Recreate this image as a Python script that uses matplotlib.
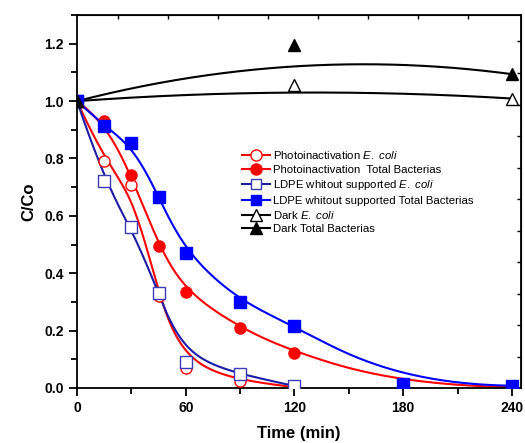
import numpy as np
import matplotlib
matplotlib.use('Agg')
import matplotlib.pyplot as plt
from matplotlib.lines import Line2D
from matplotlib.ticker import MultipleLocator, FixedLocator

plt.rcParams['font.family'] = ['Liberation Sans', 'DejaVu Sans']
plt.rcParams['mathtext.fontset'] = 'custom'
plt.rcParams['mathtext.rm'] = 'Liberation Sans'
plt.rcParams['mathtext.it'] = 'Liberation Sans:italic'

# values
t_photo_ecoli = [0, 15, 30, 45, 60, 90, 120]
c_photo_ecoli = [1.0, 0.79, 0.706, 0.32, 0.069, 0.025, 0.003]
t_photo_total = [0, 15, 30, 45, 60, 90, 120, 180, 240]
c_photo_total = [1.0, 0.931, 0.744, 0.495, 0.333, 0.21, 0.121, 0.01, 0.003]
t_ldpe_ecoli = [0, 15, 30, 45, 60, 90, 120]
c_ldpe_ecoli = [1.0, 0.721, 0.562, 0.33, 0.092, 0.048, 0.007]
t_ldpe_total = [0, 15, 30, 45, 60, 90, 120, 180, 240]
c_ldpe_total = [1.0, 0.913, 0.855, 0.667, 0.469, 0.30, 0.217, 0.013, 0.008]
t_dark = [0, 120, 240]
c_dark_ecoli = [1.0, 1.055, 1.009]
c_dark_total = [1.0, 1.195, 1.094]

labels = ['Photoinactivation $\\it{E.\\ coli}$',
          'Photoinactivation  Total Bacterias',
          'LDPE whitout supported $\\it{E.\\ coli}$',
          'LDPE whitout supported Total Bacterias',
          'Dark $\\it{E.\\ coli}$',
          'Dark Total Bacterias']


def bspline(x, y, num=400):
    # clamped B-spline using the data points as control points (Origin style)
    P = np.column_stack([x, y]).astype(float)
    n = len(P)
    k = min(3, n - 1)
    knots = np.concatenate([np.zeros(k), np.arange(n - k + 1), np.full(k, n - k)])
    u = np.linspace(0, n - k, num)
    u[-1] -= 1e-9
    N = np.array([((knots[i] <= u) & (u < knots[i + 1])).astype(float)
                  for i in range(len(knots) - 1)])
    for d in range(1, k + 1):
        Nn = np.zeros((len(knots) - 1 - d, num))
        for i in range(len(knots) - 1 - d):
            a = knots[i + d] - knots[i]
            b = knots[i + d + 1] - knots[i + 1]
            if a > 0:
                Nn[i] += (u - knots[i]) / a * N[i]
            if b > 0:
                Nn[i] += (knots[i + d + 1] - u) / b * N[i + 1]
        N = Nn
    C = N.T @ P
    return C[:, 0], C[:, 1]


fig = plt.figure(figsize=(5.25, 4.43), dpi=100)
ax = fig.add_axes([0.1467, 0.1242, 0.8457, 0.8418])

navy = '#1c1ca6'
series = [
    (t_photo_ecoli, c_photo_ecoli, 'red', 'o', 'white', 'red'),
    (t_photo_total, c_photo_total, 'red', 'o', 'red', 'red'),
    (t_ldpe_ecoli, c_ldpe_ecoli, navy, 's', 'white', '#3a3ab4'),
    (t_ldpe_total, c_ldpe_total, 'blue', 's', 'blue', 'blue'),
    (t_dark, c_dark_ecoli, 'black', '^', 'white', 'black'),
    (t_dark, c_dark_total, 'black', '^', 'black', 'black'),
]
for t, c, lc, mk, fc, ec in series:
    xs, ys = bspline(t, c)
    ax.plot(xs, ys, color=lc, lw=1.5, zorder=2)
    ax.plot(t, c, ls='none', marker=mk, ms=8.5 if mk == '^' else 8,
            mfc=fc, mec=ec, mew=1.0, zorder=3)

ax.set_xlim(0, 245)
ax.set_ylim(0, 1.3)
ax.xaxis.set_major_locator(FixedLocator([0, 60, 120, 180, 240]))
ax.xaxis.set_minor_locator(FixedLocator([30, 90, 150, 210]))
ax.yaxis.set_major_locator(FixedLocator([0, 0.2, 0.4, 0.6, 0.8, 1.0, 1.2]))
ax.yaxis.set_minor_locator(MultipleLocator(0.1))
ax.tick_params(which='major', direction='out', length=6, width=1.3,
               labelsize=10)
ax.tick_params(which='minor', direction='out', length=4, width=1.3)
for lab in ax.get_xticklabels() + ax.get_yticklabels():
    lab.set_fontweight('bold')
for sp in ax.spines.values():
    sp.set_linewidth(1.3)

# small inward ticks on the top and right frames
top = ax.secondary_xaxis('top')
top.xaxis.set_major_locator(FixedLocator(np.arange(22.8, 240, 27.6)))
top.tick_params(direction='in', length=3, width=1.0, labeltop=False)
right = ax.secondary_yaxis('right')
right.yaxis.set_major_locator(FixedLocator(np.arange(0.108, 1.3, 0.11)))
right.tick_params(direction='in', length=3, width=1.0, labelright=False)

ax.set_xlabel('Time (min)', fontsize=12, fontweight='bold', labelpad=8)
ax.set_ylabel('C/Co', fontsize=12, fontweight='bold', labelpad=6)

handles = [
    Line2D([], [], color='red', lw=1.5, marker='o', ms=8, mfc='white', mec='red'),
    Line2D([], [], color='red', lw=1.5, marker='o', ms=8, mfc='red', mec='red'),
    Line2D([], [], color=navy, lw=1.5, marker='s', ms=7.5, mfc='white', mec='#3a3ab4'),
    Line2D([], [], color='blue', lw=1.5, marker='s', ms=7.5, mfc='blue', mec='blue'),
    Line2D([], [], color='black', lw=1.5, marker='^', ms=8, mfc='white', mec='black'),
    Line2D([], [], color='black', lw=1.5, marker='^', ms=8, mfc='black', mec='black'),
]
ax.legend(handles, labels, loc='upper left', bbox_to_anchor=(0.372, 0.64),
          frameon=False, fontsize=8.2, handlelength=2.4, handletextpad=0.3,
          labelspacing=0.3, borderpad=0, borderaxespad=0)

fig.savefig('out.png', dpi=100)
